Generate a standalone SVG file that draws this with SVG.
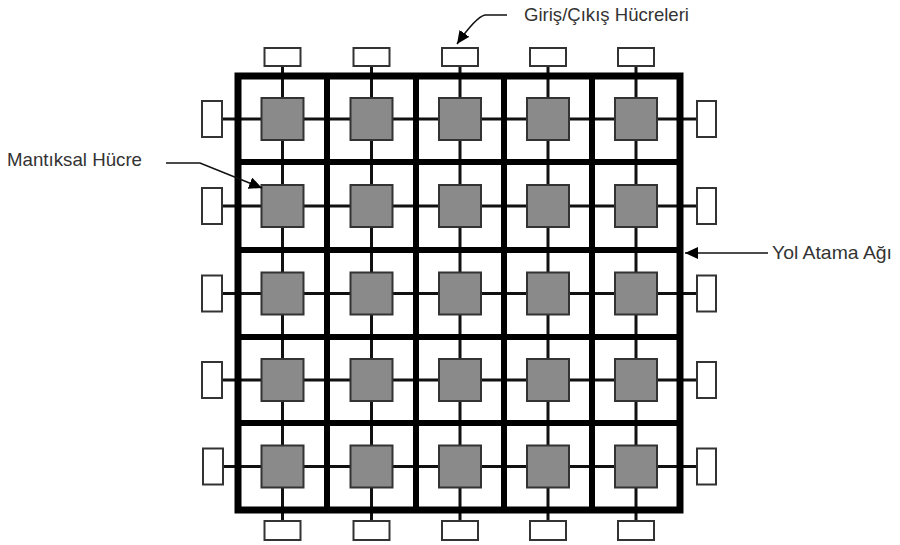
<svg xmlns="http://www.w3.org/2000/svg" width="900" height="545" viewBox="0 0 900 545">
<defs>
<style>
.lc{fill:#8a8a8a;stroke:#333;stroke-width:2}
.io{fill:#fff;stroke:#333;stroke-width:2}
.thin{stroke:#111;stroke-width:3;fill:none}
.bar{stroke:#000;stroke-width:6;fill:none}
.outer{stroke:#000;stroke-width:7;fill:none}
.lbl{font-family:"Liberation Sans",Arial,sans-serif;font-size:18.5px;fill:#333}
.ptr{stroke:#111;stroke-width:1.6;fill:none}
</style>
<marker id="ah" markerUnits="userSpaceOnUse" markerWidth="14" markerHeight="12" refX="13" refY="6" orient="auto">
<path d="M0,0 L13,6 L0,12 Z" fill="#000"/>
</marker>
</defs>
<rect width="900" height="545" fill="#fff"/>
<g id="connectors">
<line class="thin" x1="282.5" y1="66" x2="282.5" y2="521"/>
<line class="thin" x1="371.5" y1="66" x2="371.5" y2="521"/>
<line class="thin" x1="460" y1="66" x2="460" y2="521"/>
<line class="thin" x1="548" y1="66" x2="548" y2="521"/>
<line class="thin" x1="636" y1="66" x2="636" y2="521"/>
<line class="thin" x1="222" y1="119" x2="697" y2="119"/>
<line class="thin" x1="222" y1="206" x2="697" y2="206"/>
<line class="thin" x1="222" y1="293.5" x2="697" y2="293.5"/>
<line class="thin" x1="222" y1="380" x2="697" y2="380"/>
<line class="thin" x1="222" y1="466.5" x2="697" y2="466.5"/>
</g>
<g id="routing-network">
<line class="bar" x1="327" y1="76" x2="327" y2="510"/>
<line class="bar" x1="416" y1="76" x2="416" y2="510"/>
<line class="bar" x1="504" y1="76" x2="504" y2="510"/>
<line class="bar" x1="592" y1="76" x2="592" y2="510"/>
<line class="bar" x1="238" y1="162" x2="680" y2="162"/>
<line class="bar" x1="238" y1="250" x2="680" y2="250"/>
<line class="bar" x1="238" y1="337" x2="680" y2="337"/>
<line class="bar" x1="238" y1="423" x2="680" y2="423"/>
<rect class="outer" x="238" y="76" width="442" height="434"/>
</g>
<g id="logic-cells">
<g id="lc-1-1"><rect class="lc" x="261.5" y="98" width="42" height="42"/></g>
<g id="lc-1-2"><rect class="lc" x="350.5" y="98" width="42" height="42"/></g>
<g id="lc-1-3"><rect class="lc" x="439" y="98" width="42" height="42"/></g>
<g id="lc-1-4"><rect class="lc" x="527" y="98" width="42" height="42"/></g>
<g id="lc-1-5"><rect class="lc" x="615" y="98" width="42" height="42"/></g>
<g id="lc-2-1"><rect class="lc" x="261.5" y="185" width="42" height="42"/></g>
<g id="lc-2-2"><rect class="lc" x="350.5" y="185" width="42" height="42"/></g>
<g id="lc-2-3"><rect class="lc" x="439" y="185" width="42" height="42"/></g>
<g id="lc-2-4"><rect class="lc" x="527" y="185" width="42" height="42"/></g>
<g id="lc-2-5"><rect class="lc" x="615" y="185" width="42" height="42"/></g>
<g id="lc-3-1"><rect class="lc" x="261.5" y="272.5" width="42" height="42"/></g>
<g id="lc-3-2"><rect class="lc" x="350.5" y="272.5" width="42" height="42"/></g>
<g id="lc-3-3"><rect class="lc" x="439" y="272.5" width="42" height="42"/></g>
<g id="lc-3-4"><rect class="lc" x="527" y="272.5" width="42" height="42"/></g>
<g id="lc-3-5"><rect class="lc" x="615" y="272.5" width="42" height="42"/></g>
<g id="lc-4-1"><rect class="lc" x="261.5" y="359" width="42" height="42"/></g>
<g id="lc-4-2"><rect class="lc" x="350.5" y="359" width="42" height="42"/></g>
<g id="lc-4-3"><rect class="lc" x="439" y="359" width="42" height="42"/></g>
<g id="lc-4-4"><rect class="lc" x="527" y="359" width="42" height="42"/></g>
<g id="lc-4-5"><rect class="lc" x="615" y="359" width="42" height="42"/></g>
<g id="lc-5-1"><rect class="lc" x="261.5" y="445.5" width="42" height="42"/></g>
<g id="lc-5-2"><rect class="lc" x="350.5" y="445.5" width="42" height="42"/></g>
<g id="lc-5-3"><rect class="lc" x="439" y="445.5" width="42" height="42"/></g>
<g id="lc-5-4"><rect class="lc" x="527" y="445.5" width="42" height="42"/></g>
<g id="lc-5-5"><rect class="lc" x="615" y="445.5" width="42" height="42"/></g>
</g>
<g id="io-cells">
<g id="io-top-1"><rect class="io" x="264.5" y="48" width="36" height="18"/></g>
<g id="io-top-2"><rect class="io" x="353.5" y="48" width="36" height="18"/></g>
<g id="io-top-3"><rect class="io" x="442" y="48" width="36" height="18"/></g>
<g id="io-top-4"><rect class="io" x="530" y="48" width="36" height="18"/></g>
<g id="io-top-5"><rect class="io" x="618" y="48" width="36" height="18"/></g>
<g id="io-bot-1"><rect class="io" x="264.5" y="521" width="36" height="19"/></g>
<g id="io-bot-2"><rect class="io" x="353.5" y="521" width="36" height="19"/></g>
<g id="io-bot-3"><rect class="io" x="442" y="521" width="36" height="19"/></g>
<g id="io-bot-4"><rect class="io" x="530" y="521" width="36" height="19"/></g>
<g id="io-bot-5"><rect class="io" x="618" y="521" width="36" height="19"/></g>
<g id="io-left-1"><rect class="io" x="202" y="101" width="20" height="36"/></g>
<g id="io-left-2"><rect class="io" x="202" y="188" width="20" height="36"/></g>
<g id="io-left-3"><rect class="io" x="202" y="275.5" width="20" height="36"/></g>
<g id="io-left-4"><rect class="io" x="202" y="362" width="20" height="36"/></g>
<g id="io-left-5"><rect class="io" x="203" y="448.5" width="20" height="36"/></g>
<g id="io-right-1"><rect class="io" x="697" y="101" width="19" height="36"/></g>
<g id="io-right-2"><rect class="io" x="697" y="188" width="19" height="36"/></g>
<g id="io-right-3"><rect class="io" x="697" y="275.5" width="19" height="36"/></g>
<g id="io-right-4"><rect class="io" x="697" y="362" width="19" height="36"/></g>
<g id="io-right-5"><rect class="io" x="697" y="448.5" width="19" height="36"/></g>
</g>
<g id="labels">
<g id="label-io">
<text class="lbl" x="524" y="21" textLength="165" lengthAdjust="spacingAndGlyphs">Giriş/Çıkış Hücreleri</text>
<path class="ptr" d="M507,15 L485,15 Q476,17 457,44" marker-end="url(#ah)"/>
</g>
<g id="label-logic">
<text class="lbl" x="7" y="166" textLength="135" lengthAdjust="spacingAndGlyphs">Mantıksal Hücre</text>
<path class="ptr" d="M166,163 L200,163 L262,188" marker-end="url(#ah)"/>
</g>
<g id="label-routing">
<text class="lbl" x="772" y="259" textLength="120" lengthAdjust="spacingAndGlyphs">Yol Atama Ağı</text>
<path class="ptr" d="M768,253 L685,253" marker-end="url(#ah)"/>
</g>
</g>
</svg>
